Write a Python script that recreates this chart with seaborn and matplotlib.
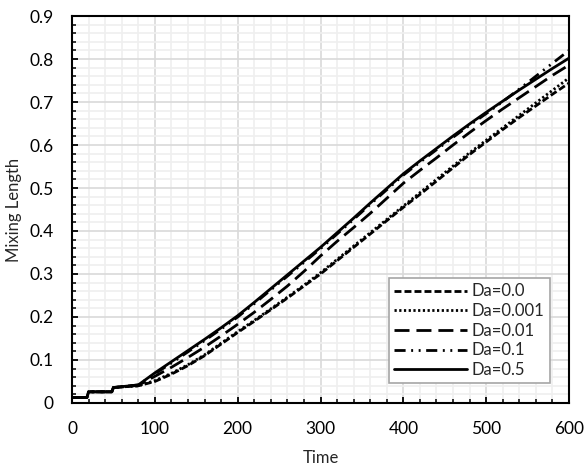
import numpy as np
import pandas as pd
import matplotlib
matplotlib.use("Agg")
import matplotlib.pyplot as plt
from matplotlib.ticker import MultipleLocator
import seaborn as sns

# Sampled times (shared by every run)
time = [0, 18, 20, 48, 50, 80, 100, 120, 140, 160, 180, 200, 220, 240, 260,
        280, 300, 320, 340, 360, 380, 400, 420, 440, 460, 480, 500, 520, 540,
        560, 580, 600]

# Mixing length for each Damkohler number
da_00 = [0.013, 0.013, 0.026, 0.026, 0.036, 0.040, 0.050, 0.067, 0.087, 0.110,
         0.137, 0.164, 0.190, 0.217, 0.244, 0.272, 0.300, 0.331, 0.362, 0.393,
         0.424, 0.455, 0.485, 0.516, 0.547, 0.578, 0.607, 0.636, 0.664, 0.691,
         0.718, 0.744]
da_0001 = [0.013, 0.013, 0.026, 0.026, 0.036, 0.040, 0.052, 0.069, 0.089, 0.112,
           0.139, 0.166, 0.192, 0.219, 0.246, 0.274, 0.303, 0.334, 0.365, 0.396,
           0.427, 0.458, 0.489, 0.520, 0.551, 0.582, 0.611, 0.640, 0.669, 0.698,
           0.727, 0.756]
da_001 = [0.013, 0.013, 0.026, 0.026, 0.036, 0.041, 0.062, 0.083, 0.106, 0.130,
          0.156, 0.183, 0.211, 0.241, 0.272, 0.306, 0.342, 0.376, 0.408, 0.441,
          0.476, 0.511, 0.541, 0.570, 0.600, 0.629, 0.657, 0.684, 0.710, 0.736,
          0.762, 0.786]
da_01 = [0.013, 0.013, 0.026, 0.026, 0.036, 0.042, 0.068, 0.093, 0.119, 0.145,
         0.172, 0.200, 0.231, 0.263, 0.295, 0.327, 0.359, 0.393, 0.427, 0.462,
         0.496, 0.530, 0.560, 0.589, 0.618, 0.646, 0.673, 0.701, 0.730, 0.760,
         0.790, 0.820]
da_05 = [0.013, 0.013, 0.026, 0.026, 0.036, 0.042, 0.070, 0.096, 0.122, 0.148,
         0.175, 0.203, 0.234, 0.266, 0.298, 0.330, 0.362, 0.396, 0.430, 0.465,
         0.499, 0.533, 0.563, 0.592, 0.621, 0.649, 0.676, 0.702, 0.728, 0.753,
         0.778, 0.802]

labels = ["Da=0.0", "Da=0.001", "Da=0.01", "Da=0.1", "Da=0.5"]
series = [da_00, da_0001, da_001, da_01, da_05]

x_ticks = [0, 100, 200, 300, 400, 500, 600]
y_ticks = [0, 0.1, 0.2, 0.3, 0.4, 0.5, 0.6, 0.7, 0.8, 0.9]

df = pd.concat(
    [pd.DataFrame({"Time": time, "Mixing Length": vals, "Run": lab})
     for lab, vals in zip(labels, series)],
    ignore_index=True,
)

sns.set_style("white")
plt.rcParams["font.family"] = ["Lato", "DejaVu Sans"]

# Dash patterns in units of line width
dash_styles = {
    "Da=0.0": (2.5, 1.1),
    "Da=0.001": (0.8, 0.9),
    "Da=0.01": (5.4, 2.5),
    "Da=0.1": (4.0, 2.0, 0.7, 2.0, 0.7, 2.0),
    "Da=0.5": "",
}

fig = plt.figure(figsize=(5.86, 4.68), dpi=100)
ax = fig.add_axes([0.1229, 0.1389, 0.8481, 0.8269])

sns.lineplot(data=df, x="Time", y="Mixing Length", style="Run",
             style_order=labels, dashes=dash_styles, color="black",
             linewidth=2.0, estimator=None, sort=False, ax=ax)

ax.set_xlim(0, 600)
ax.set_ylim(0, 0.9)
ax.set_xticks(x_ticks)
ax.set_yticks(y_ticks)
ax.xaxis.set_minor_locator(MultipleLocator(20))
ax.yaxis.set_minor_locator(MultipleLocator(0.02))
ax.set_yticklabels(["0"] + [f"{v:.1f}" for v in y_ticks[1:]])

ax.grid(which="major", color="#d9d9d9", linewidth=1.2)
ax.grid(which="minor", color="#efefef", linewidth=1.2)
ax.set_axisbelow(True)

for side in ["left", "bottom", "top", "right"]:
    ax.spines[side].set_visible(True)
    ax.spines[side].set_color("black")
    ax.spines[side].set_linewidth(1.5)

ax.tick_params(which="major", direction="in", length=4, width=1.3,
               color="black", labelsize=12.5, pad=13, labelcolor="black")
ax.tick_params(which="minor", direction="in", length=3, width=1.1,
               color="black")
ax.tick_params(top=False, right=False, which="both")
ax.tick_params(axis="both", left=True, bottom=True, which="both")

ax.set_xlabel("Time", fontsize=12, va="center")
ax.set_ylabel("Mixing Length", fontsize=12, va="center")
ax.xaxis.set_label_coords(0.5, -0.142)
ax.yaxis.set_label_coords(-0.117, 0.5)

handles, labs = ax.get_legend_handles_labels()
leg = ax.legend(handles, labs, loc="lower right", bbox_to_anchor=(0.978, 0.03),
                handlelength=4.4, handletextpad=0.3, labelspacing=0.22,
                borderpad=0.3, fontsize=12, frameon=True, fancybox=False,
                framealpha=1, edgecolor="#a6a6a6")
leg.get_frame().set_linewidth(1.2)

fig.savefig("out.png", dpi=100, facecolor="white")
